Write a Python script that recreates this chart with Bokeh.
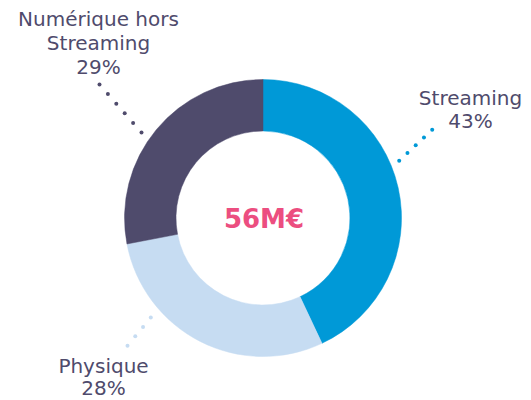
import math
from bokeh.plotting import figure
from bokeh.models import Range1d, ColumnDataSource
from bokeh.core.properties import value
from bokeh.embed import file_html
from bokeh.resources import INLINE

# ---- data ----
categories = ["Streaming", "Physique", "Numérique hors Streaming"]
shares = [43, 29, 28]            # wedge sizes (%)
pct_labels = ["43%", "28%", "29%"]
label_lines = [["Streaming"], ["Physique"], ["Numérique hors", "Streaming"]]
total_label = "56M€"
colors = ["#0099D7", "#C6DCF2", "#4F4B6C"]

# ---- layout (screen pixel coords -> data coords, y up) ----
W, H = 531, 400
def Y(sy):
    return H - sy

cx, cy = 262.5, Y(217.5)
r_out, r_in = 138.5, 87
TXT_DY = -7  # baseline correction for text rendering

p = figure(width=W, height=H, x_range=Range1d(0, W), y_range=Range1d(0, H),
           output_backend="svg", toolbar_location=None, min_border=0)
p.axis.visible = False
p.grid.visible = False
p.outline_line_color = None
p.background_fill_color = "white"

total = sum(shares)
starts, ends = [], []
acc = 0.0
for s in shares:
    starts.append(math.pi / 2 - acc / total * 2 * math.pi)
    acc += s
    ends.append(math.pi / 2 - acc / total * 2 * math.pi)

src = ColumnDataSource(dict(x=[cx] * 3, y=[cy] * 3, start=starts, end=ends,
                            color=colors, cat=categories))
p.annular_wedge(x="x", y="y", inner_radius=r_in, outer_radius=r_out,
                inner_radius_units="screen", outer_radius_units="screen",
                start_angle="start", end_angle="end", direction="clock",
                fill_color="color", line_color="color", line_width=0.5, source=src)

# leader dots: (start screen xy, end screen xy, n dots)
leaders = [((398.7, 160.3), (431.7, 129.3), 5),
           ((150.3, 317.0), (127.0, 345.3), 4),
           ((141.0, 132.0), (99.0, 84.0), 6)]
for (a, b, n), col in zip(leaders, colors):
    xs = [a[0] + (b[0] - a[0]) * i / (n - 1) for i in range(n)]
    ys = [Y(a[1] + (b[1] - a[1]) * i / (n - 1)) for i in range(n)]
    p.scatter(xs, ys, size=4, color=col, line_color=None)

# labels: center x, first baseline (screen), line spacing
label_pos = [(470, 104, 23), (103, 372, 22), (98, 25, 24)]
txt_col = "#4F4B6C"
for lines, pct, (lx, ly, dy) in zip(label_lines, pct_labels, label_pos):
    all_lines = lines + [pct]
    ys = [Y(ly + TXT_DY + dy * i) for i in range(len(all_lines))]
    p.text(x=[lx] * len(all_lines), y=ys, text=all_lines,
           text_align="center", text_baseline="alphabetic",
           text_font=value("DejaVu Sans"), text_font_size="20px",
           text_color=txt_col)

p.text(x=[cx + 1], y=[Y(226 + TXT_DY - 1)], text=[total_label], text_align="center",
       text_baseline="alphabetic", text_font=value("DejaVu Sans"),
       text_font_size="26px", text_font_style="bold", text_color="#EC4E80")

open("out.html", "w").write(file_html(p, INLINE))
